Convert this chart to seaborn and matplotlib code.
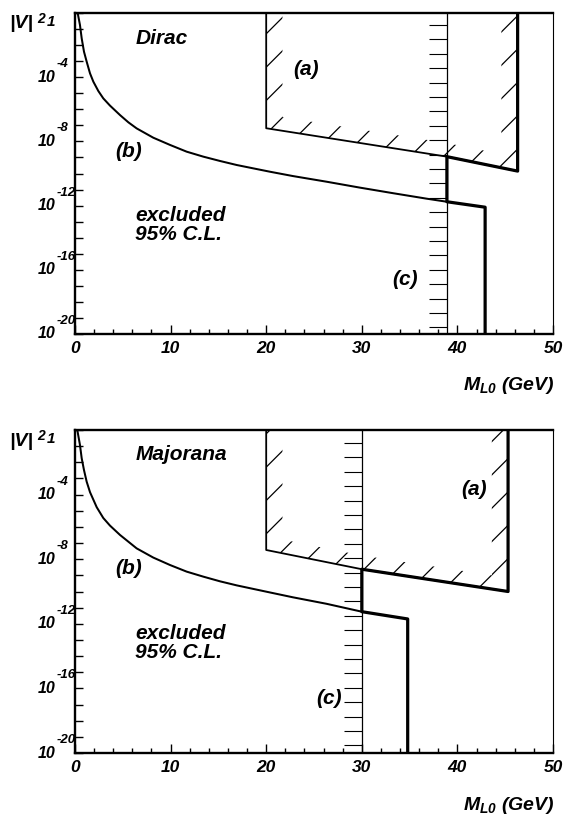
import numpy as np
import matplotlib
matplotlib.use("Agg")
import matplotlib.pyplot as plt
import seaborn as sns
from matplotlib.path import Path
from matplotlib.patches import PathPatch

# ---------------- data (log10 |V|^2 versus M_L0 in GeV) ----------------
dirac_b_mass = [0.28, 0.52, 0.70, 0.94, 1.22, 1.57, 1.92, 2.44, 2.96, 3.66, 4.71, 5.58, 6.45,
                8.19, 9.94, 11.68, 13.42, 15.17, 16.91, 18.65, 20.4, 22.8, 26.3, 29.8, 33.3,
                36.8, 38.9]
dirac_b_logv2 = [0.0, -0.75, -1.58, -2.41, -3.03, -3.76, -4.28, -4.86, -5.32, -5.77, -6.36, -6.81,
                 -7.19, -7.77, -8.22, -8.64, -8.95, -9.22, -9.47, -9.68, -9.89, -10.16, -10.51,
                 -10.88, -11.23, -11.57, -11.76]
dirac_a_mass = [20.0, 20.0, 38.9, 46.3, 46.3]
dirac_a_logv2 = [0.0, -7.18, -8.95, -9.85, 0.0]
dirac_c_mass = 38.9
dirac_env_mass = [46.3, 46.3, 38.9, 38.9, 42.9, 42.9]
dirac_env_logv2 = [0.0, -9.85, -8.95, -11.76, -12.1, -20.0]

major_b_mass = [0.24, 0.52, 0.70, 0.94, 1.22, 1.57, 2.27, 2.96, 3.66, 4.71, 6.45, 8.19, 9.94,
                11.68, 13.42, 15.17, 16.91, 18.65, 20.4, 22.8, 26.3, 30.0]
major_b_logv2 = [0.0, -0.93, -1.75, -2.48, -3.2, -3.85, -4.78, -5.45, -5.92, -6.5, -7.33, -7.9,
                 -8.36, -8.77, -9.08, -9.37, -9.62, -9.84, -10.06, -10.36, -10.76, -11.25]
major_a_mass = [20.0, 20.0, 30.0, 45.3, 45.3]
major_a_logv2 = [0.0, -7.43, -8.62, -10.0, 0.0]
major_c_mass = 30.0
major_env_mass = [45.3, 45.3, 30.0, 30.0, 34.8, 34.8]
major_env_logv2 = [0.0, -10.0, -8.62, -11.25, -11.7, -20.0]

x_ticks = [0, 10, 20, 30, 40, 50]
y_label_decades = [0, 4, 8, 12, 16, 20]

# ---------------- style ----------------
sns.set_style("white")
plt.rcParams["font.family"] = ["Liberation Sans", "DejaVu Sans"]
plt.rcParams["font.weight"] = "bold"
plt.rcParams["font.style"] = "italic"
plt.rcParams["text.color"] = "black"
plt.rcParams["axes.labelcolor"] = "black"
plt.rcParams["xtick.color"] = "black"
plt.rcParams["ytick.color"] = "black"
plt.rcParams["axes.edgecolor"] = "black"
plt.rcParams["mathtext.fontset"] = "custom"
plt.rcParams["mathtext.it"] = "Liberation Sans:italic:bold"
plt.rcParams["mathtext.rm"] = "Liberation Sans:italic:bold"
plt.rcParams["mathtext.bf"] = "Liberation Sans:italic:bold"
plt.rcParams["hatch.linewidth"] = 0.9
plt.rcParams["hatch.color"] = "black"

W, H = 567, 816
fig = plt.figure(figsize=(W / 100, H / 100), dpi=100)
fig.patch.set_facecolor("white")


def hatch_band(ax, xs, ls, dx, dy):
    bx = np.array(xs[1:4]); bl = np.array(ls[1:4])
    ix0 = xs[0] + dx
    ix1 = xs[-1] - dx
    top = 0.5
    outer = [(xs[0], top), (xs[1], ls[1]), (xs[2], ls[2]), (xs[3], ls[3]), (xs[4], top)]
    inner = [(ix1, top), (ix1, np.interp(ix1, bx, bl) + dy), (bx[1], bl[1] + dy),
             (ix0, np.interp(ix0, bx, bl) + dy), (ix0, top)]
    verts = [(x, 10 ** l) for x, l in outer] + [(0, 0)] + [(x, 10 ** l) for x, l in inner] + [(0, 0)]
    codes = ([Path.MOVETO] + [Path.LINETO] * 4 + [Path.CLOSEPOLY]) * 2
    patch = PathPatch(Path(verts, codes), facecolor="none", edgecolor="black",
                      linewidth=0, hatch="/", zorder=1)
    ax.add_patch(patch)


def panel(ax, b_m, b_l, a_m, a_l, c_m, env_m, env_l, c_start, c_step, texts, top_px):
    ax.set_yscale("log")
    ax.set_xlim(0, 50)
    ax.set_ylim(1e-20, 1)
    ax.set_facecolor("white")

    hatch_band(ax, a_m, a_l, 1.7, 0.85)

    # line (c) with tick marks on its excluded side
    sns.lineplot(x=[c_m, c_m], y=[1.0, 1e-20], sort=False, estimator=None,
                 color="black", lw=0.9, ax=ax)
    cl = np.arange(c_start, 19.9, c_step)
    ax.hlines(10 ** (-cl), c_m - 1.9, c_m, color="black", lw=0.8, zorder=2)

    # region (a) outline
    sns.lineplot(x=a_m, y=10 ** np.array(a_l), sort=False, estimator=None,
                 color="black", lw=1.3, ax=ax)
    # curve (b)
    sns.lineplot(x=b_m, y=10 ** np.array(b_l), sort=False, estimator=None,
                 color="black", lw=1.45, ax=ax)
    # combined envelope (thick)
    sns.lineplot(x=env_m, y=10 ** np.array(env_l), sort=False, estimator=None,
                 color="black", lw=2.3, ax=ax, zorder=4)

    # spines
    for side in ["left", "bottom", "top"]:
        ax.spines[side].set_linewidth(1.7)
        ax.spines[side].set_color("black")
    ax.spines["right"].set_linewidth(0.8)
    ax.spines["right"].set_color("black")

    # ticks
    ax.set_xticks(x_ticks)
    ax.set_xticklabels([str(t) for t in x_ticks], fontsize=12.5,
                       fontweight="bold", fontstyle="italic", color="black")
    ax.set_xticks(np.arange(0, 51, 2), minor=True)
    ax.tick_params(axis="x", which="major", direction="in", length=6.5, width=1,
                   pad=5, bottom=True, top=False, colors="black")
    ax.tick_params(axis="x", which="minor", direction="in", length=3.5, width=1,
                   bottom=True, top=False, colors="black")
    ax.yaxis.set_major_locator(matplotlib.ticker.FixedLocator(10.0 ** -np.arange(0, 21)))
    ax.yaxis.set_minor_locator(matplotlib.ticker.NullLocator())
    ax.tick_params(axis="y", which="major", direction="in", length=5.5, width=1,
                   left=True, right=False, labelleft=False, colors="black")

    # y tick labels: 10 with exponent
    for k in y_label_decades:
        if k == 0:
            ax.annotate("1", xy=(0, 1.0), xycoords=("axes fraction", "data"),
                        xytext=(-20, -2), textcoords="offset pixels",
                        ha="right", va="top", fontsize=11, color="black")
        else:
            ax.annotate("10", xy=(0, 10.0 ** -k), xycoords=("axes fraction", "data"),
                        xytext=(-20, 0), textcoords="offset pixels",
                        ha="right", va="center", fontsize=11.5, color="black")
            ax.annotate(f"-{k}", xy=(0, 10.0 ** -k), xycoords=("axes fraction", "data"),
                        xytext=(-18, 13), textcoords="offset pixels",
                        ha="left", va="center", fontsize=9.5, color="black")

    # |V|^2 label
    fig.text(9 / W, 1 - (top_px + 11) / H, "|V|", fontsize=14, ha="left", va="center",
             color="black")
    fig.text(37 / W, 1 - (top_px + 6) / H, "2", fontsize=10, ha="left", va="center",
             color="black")

    # x label
    ax.annotate(r"$M_{L0}$ (GeV)", xy=(1, 0), xycoords="axes fraction",
                xytext=(2, -52), textcoords="offset pixels",
                ha="right", va="center", fontsize=14, color="black")

    for (tx, tl, s, ha) in texts:
        ax.text(tx, 10 ** tl, s, fontsize=15, ha=ha, va="center", linespacing=1.0,
                zorder=5, color="black")


ax1 = fig.add_axes([75 / W, 1 - 334 / H, 478 / W, 321 / H])
panel(ax1, dirac_b_mass, dirac_b_logv2, dirac_a_mass, dirac_a_logv2, dirac_c_mass,
      dirac_env_mass, dirac_env_logv2, 0.75, 0.897,
      [(6.3, -1.56, "Dirac", "left"), (22.8, -3.55, "(a)", "left"),
       (4.2, -8.66, "(b)", "left"), (6.3, -13.2, "excluded\n95% C.L.", "left"),
       (35.9, -16.6, "(c)", "right")], 13)

ax2 = fig.add_axes([75 / W, 1 - 753 / H, 478 / W, 323 / H])
panel(ax2, major_b_mass, major_b_logv2, major_a_mass, major_a_logv2, major_c_mass,
      major_env_mass, major_env_logv2, 0.8, 0.892,
      [(6.3, -1.5, "Majorana", "left"), (43.1, -3.7, "(a)", "right"),
       (4.2, -8.6, "(b)", "left"), (6.3, -13.2, "excluded\n95% C.L.", "left"),
       (27.9, -16.65, "(c)", "right")], 430)

fig.savefig("out.png", dpi=100, facecolor="white")
